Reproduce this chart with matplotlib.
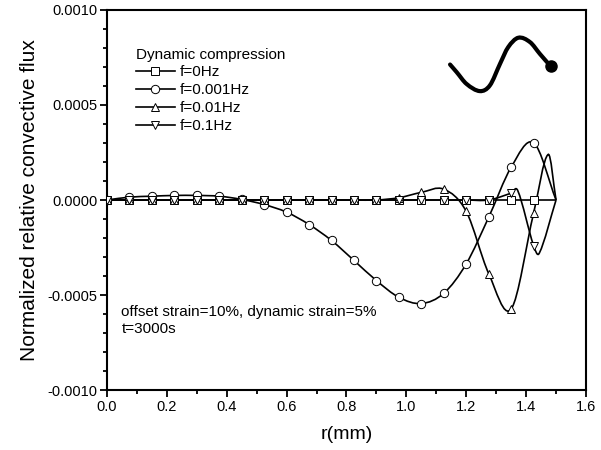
import numpy as np
import matplotlib
matplotlib.use("Agg")
import matplotlib.pyplot as plt
from matplotlib.path import Path
from matplotlib.patches import PathPatch
from matplotlib.ticker import MultipleLocator, FormatStrFormatter

plt.rcParams["font.family"] = ["Liberation Sans", "DejaVu Sans"]

# radial positions of the data points (mm)
r = [0.0, 0.075, 0.15, 0.225, 0.3, 0.375, 0.45, 0.525, 0.6, 0.675, 0.75,
     0.825, 0.9, 0.975, 1.05, 1.125, 1.2, 1.275, 1.35, 1.425, 1.5]

flux_f0 = [0.0] * 21
flux_f0001 = [0.0, 0.000015, 0.00002, 0.000024, 0.000024, 0.00002, 0.000003,
              -0.000024, -0.000064, -0.000129, -0.000213, -0.000318, -0.000424,
              -0.000512, -0.000545, -0.000491, -0.000336, -0.000091, 0.000172,
              0.000301, 0.0]
flux_f001 = [0.0, 0.0, 0.0, 0.0, 0.0, 0.0, 0.0, 0.0, 0.0, 0.0, 0.0, 0.0, 0.0,
             0.000012, 0.00004, 0.000057, -0.00006, -0.000387, -0.000574,
             -0.00007, 0.0]
flux_f01 = [0.0] * 18 + [0.000036, -0.00024, 0.0]

# extra points (overshoots between markers)
extra_r_f001 = [1.474]
extra_v_f001 = [0.00024]
extra_r_f01 = [1.372, 1.444]
extra_v_f01 = [0.00005, -0.00028]

labels = ["f=0Hz", "f=0.001Hz", "f=0.01Hz", "f=0.1Hz"]
markers = ["s", "o", "^", "v"]

# decorative loading-wave sketch in the upper right
wave_r = [1.146, 1.168, 1.201, 1.246, 1.279, 1.313, 1.340, 1.374, 1.413, 1.446, 1.482]
wave_v = [0.000713, 0.000673, 0.000611, 0.000573, 0.000603, 0.000717,
          0.000804, 0.000854, 0.000831, 0.000769, 0.000704]


def smooth_path(xs, ys):
    # cubic Hermite curve through the points, written as Bezier segments
    xs = np.asarray(xs, float)
    ys = np.asarray(ys, float)
    n = len(xs)
    m = np.zeros(n)
    for i in range(n):
        if i == 0:
            m[i] = (ys[1] - ys[0]) / (xs[1] - xs[0])
        elif i == n - 1:
            m[i] = (ys[-1] - ys[-2]) / (xs[-1] - xs[-2])
        else:
            m[i] = (ys[i + 1] - ys[i - 1]) / (xs[i + 1] - xs[i - 1])
    verts = [(xs[0], ys[0])]
    codes = [Path.MOVETO]
    for i in range(n - 1):
        h = xs[i + 1] - xs[i]
        verts += [(xs[i] + h / 3, ys[i] + m[i] * h / 3),
                  (xs[i + 1] - h / 3, ys[i + 1] - m[i + 1] * h / 3),
                  (xs[i + 1], ys[i + 1])]
        codes += [Path.CURVE4] * 3
    return Path(verts, codes)


def merged(xs, ys, ex, ey):
    pts = sorted(zip(list(xs) + list(ex), list(ys) + list(ey)))
    return [p[0] for p in pts], [p[1] for p in pts]


fig = plt.figure(figsize=(6.01, 4.5), dpi=100)
ax = fig.add_axes([0.178, 0.1333, 0.797, 0.8445])

series = [
    (flux_f0, [], []),
    (flux_f0001, [], []),
    (flux_f001, extra_r_f001, extra_v_f001),
    (flux_f01, extra_r_f01, extra_v_f01),
]

handles = []
for (vals, ex, ey), lab, mk in zip(series, labels, markers):
    lx, ly = merged(r, vals, ex, ey)
    ax.add_patch(PathPatch(smooth_path(lx, ly), fill=False, edgecolor="black",
                           lw=1.2, zorder=2))
    ax.plot(r[:-1], vals[:-1], linestyle="none", marker=mk, markersize=6,
            markerfacecolor="white", markeredgecolor="black",
            markeredgewidth=0.7, zorder=3)
    leg_h, = ax.plot([], [], color="black", lw=1.2, marker=mk, markersize=6,
                     markerfacecolor="white", markeredgecolor="black",
                     markeredgewidth=0.7, label=lab)
    handles.append(leg_h)

ax.add_patch(PathPatch(smooth_path(wave_r, wave_v), fill=False,
                       edgecolor="black", lw=3, capstyle="round", zorder=4))
ax.plot(wave_r[-1], wave_v[-1], "o", color="black", markersize=8, zorder=5)

ax.set_xlim(0, 1.6)
ax.set_ylim(-0.001, 0.001)
ax.xaxis.set_major_locator(MultipleLocator(0.2))
ax.xaxis.set_minor_locator(MultipleLocator(0.1))
ax.yaxis.set_major_locator(MultipleLocator(0.0005))
ax.yaxis.set_minor_locator(MultipleLocator(0.0001))
ax.xaxis.set_major_formatter(FormatStrFormatter("%.1f"))
ax.yaxis.set_major_formatter(FormatStrFormatter("%.4f"))
ax.tick_params(which="both", direction="out", top=False, right=False,
               labelsize=10.5, width=1.3, pad=2)
ax.tick_params(which="major", length=5)
ax.tick_params(which="minor", length=3)
for sp in ax.spines.values():
    sp.set_linewidth(1.5)

ax.set_xlabel("r(mm)", fontsize=14, labelpad=9)
ax.set_ylabel("Normalized relative convective flux", fontsize=15, labelpad=6)

leg = ax.legend(handles=handles, title="Dynamic compression", loc="upper left",
                bbox_to_anchor=(0.047, 0.917), frameon=False, fontsize=11,
                title_fontsize=11, handlelength=2.6, handletextpad=0.3,
                labelspacing=0.25, borderaxespad=0, alignment="left")

ax.text(0.03, 0.223, "offset strain=10%, dynamic strain=5%\nt=3000s",
        transform=ax.transAxes, fontsize=11, va="top", ha="left",
        linespacing=1.25)

plt.savefig("out.png", dpi=100)
